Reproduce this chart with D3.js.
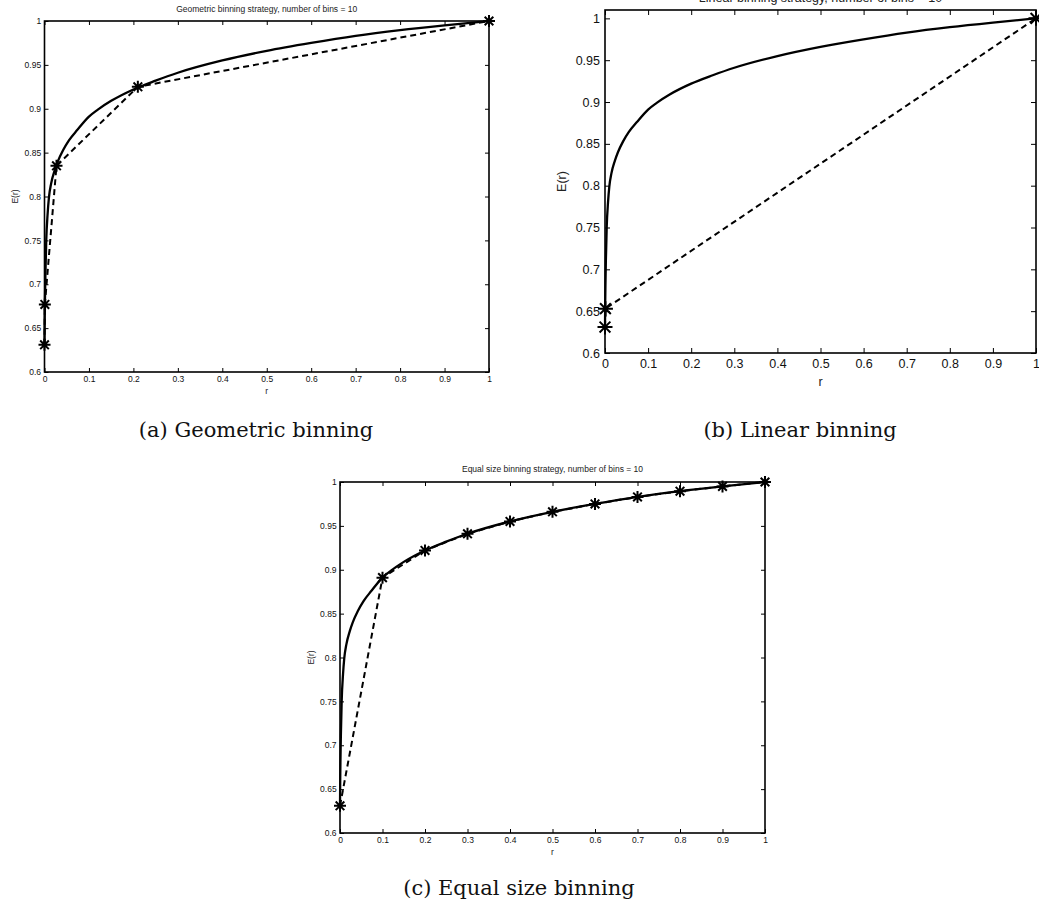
<!DOCTYPE html>
<html>
<head>
<meta charset="utf-8">
<script src="https://cdn.jsdelivr.net/npm/d3@7"></script>
<style>
  body { margin: 0; background: #fff; }
  svg { display: block; }
</style>
</head>
<body>
<div id="chart"></div>
<script>
// Set dimensions
const width = 1039,
    height = 909;

// Tick values
const xTicks = [0, 0.1, 0.2, 0.3, 0.4, 0.5, 0.6, 0.7, 0.8, 0.9, 1];
const yTicks = [0.6, 0.65, 0.7, 0.75, 0.8, 0.85, 0.9, 0.95, 1];

// Exact E(r) curve
const curveR = [0, 0.0005, 0.001, 0.002, 0.004, 0.007, 0.01, 0.015, 0.023, 0.03, 0.042, 0.055, 0.074, 0.1, 0.12, 0.15, 0.2, 0.25, 0.3, 0.4, 0.5, 0.6, 0.7, 0.8, 0.9, 1];
const curveE = [0.631, 0.66, 0.68, 0.71, 0.751, 0.78, 0.799, 0.815, 0.83, 0.84, 0.853, 0.864, 0.876, 0.891, 0.899, 0.909, 0.922, 0.932, 0.941, 0.955, 0.966, 0.975, 0.983, 0.9895, 0.995, 1];

// Binned approximations
const geoR = [0, 0.0008, 0.027, 0.21, 1];
const geoE = [0.631, 0.677, 0.835, 0.925, 1];
const linR = [0, 0.001, 1];
const linE = [0.631, 0.653, 1];
const eqR = [0, 0.1, 0.2, 0.3, 0.4, 0.5, 0.6, 0.7, 0.8, 0.9, 1];
const eqE = [0.631, 0.891, 0.922, 0.941, 0.955, 0.966, 0.975, 0.983, 0.9895, 0.995, 1];

const curve = curveR.map((r, i) => ({ r, e: curveE[i] }));

const panels = [
    {
        title: "Geometric binning strategy, number of bins = 10",
        caption: "(a) Geometric binning",
        x0: 44.5, x1: 489, y0: 372, y1: 21, yMax: 1,
        font: 8.5, tick: 4, star: 6,
        titleY: 12, capX: 256, capY: 437,
        binR: geoR, binE: geoE,
    },
    {
        title: "Linear binning strategy, number of bins = 10",
        caption: "(b) Linear binning",
        x0: 605, x1: 1036, y0: 353, y1: 10, yMax: 1.01,
        font: 12.5, tick: 5, star: 7.5,
        titleY: 2, capX: 800, capY: 437,
        binR: linR, binE: linE,
    },
    {
        title: "Equal size binning strategy, number of bins = 10",
        caption: "(c) Equal size binning",
        x0: 340, x1: 765, y0: 833, y1: 482, yMax: 1,
        font: 8.5, tick: 4, star: 6,
        titleY: 472, capX: 519, capY: 895,
        binR: eqR, binE: eqE,
    },
];

// Append SVG
const svg = d3
    .select("#chart")
    .append("svg")
    .attr("width", width)
    .attr("height", height)
    .style("font-family", "'Liberation Sans', Arial, sans-serif");

const fmt = d3.format("~g");

panels.forEach((p) => {
    const x = d3.scaleLinear().domain([0, 1]).range([p.x0, p.x1]);
    const y = d3.scaleLinear().domain([0.6, p.yMax]).range([p.y0, p.y1]);
    const g = svg.append("g");

    // Axes with inward ticks (Matlab style)
    g.append("g")
        .attr("transform", `translate(0,${p.y0})`)
        .call(
            d3.axisBottom(x).tickValues(xTicks).tickFormat(fmt)
                .tickSizeInner(-p.tick).tickSizeOuter(0).tickPadding(p.font * 0.45),
        );
    g.append("g")
        .attr("transform", `translate(${p.x0},0)`)
        .call(
            d3.axisLeft(y).tickValues(yTicks).tickFormat(fmt)
                .tickSizeInner(-p.tick).tickSizeOuter(0).tickPadding(p.font * 0.4),
        );
    g.append("g")
        .attr("transform", `translate(0,${p.y1})`)
        .call(d3.axisTop(x).tickValues(xTicks).tickFormat("").tickSizeInner(-p.tick).tickSizeOuter(0));
    g.append("g")
        .attr("transform", `translate(${p.x1},0)`)
        .call(d3.axisRight(y).tickValues(yTicks).tickFormat("").tickSizeInner(-p.tick).tickSizeOuter(0));

    g.selectAll(".domain").remove();
    g.selectAll(".tick line").attr("stroke", "#000").attr("stroke-width", 1);
    g.selectAll(".tick text")
        .attr("fill", "#111")
        .style("font-size", `${p.font}px`)
        .style("font-family", "'Liberation Sans', Arial, sans-serif");

    // Box
    g.append("rect")
        .attr("x", p.x0)
        .attr("y", p.y1)
        .attr("width", p.x1 - p.x0)
        .attr("height", p.y0 - p.y1)
        .attr("fill", "none")
        .attr("stroke", "#000")
        .attr("stroke-width", 1.6);

    // Exact curve
    g.append("path")
        .datum(curve)
        .attr("fill", "none")
        .attr("stroke", "#000")
        .attr("stroke-width", 2.3)
        .attr(
            "d",
            d3.line().x((d) => x(d.r)).y((d) => y(d.e)).curve(d3.curveMonotoneX),
        );

    // Binned approximation
    const bins = p.binR.map((r, i) => ({ r, e: p.binE[i] }));
    g.append("path")
        .datum(bins)
        .attr("fill", "none")
        .attr("stroke", "#000")
        .attr("stroke-width", 2)
        .attr("stroke-dasharray", "6,4")
        .attr("d", d3.line().x((d) => x(d.r)).y((d) => y(d.e)));

    // Asterisk markers
    const s = p.star,
        a = s * 0.72;
    g.selectAll(".star")
        .data(bins)
        .enter()
        .append("path")
        .attr("transform", (d) => `translate(${x(d.r)},${y(d.e)})`)
        .attr("fill", "none")
        .attr("stroke", "#000")
        .attr("stroke-width", 2)
        .attr("d", `M${-s},0L${s},0M0,${-s}L0,${s}M${-a},${-a}L${a},${a}M${-a},${a}L${a},${-a}`);

    // Labels
    g.append("text")
        .attr("x", (p.x0 + p.x1) / 2)
        .attr("y", p.titleY)
        .attr("text-anchor", "middle")
        .style("font-size", `${p.font}px`)
        .attr("fill", "#222")
        .text(p.title);
    g.append("text")
        .attr("x", (p.x0 + p.x1) / 2)
        .attr("y", p.y0 + p.font * 2.6)
        .attr("text-anchor", "middle")
        .style("font-size", `${p.font}px`)
        .attr("fill", "#222")
        .text("r");
    g.append("text")
        .attr("transform", `translate(${p.x0 - p.font * 3.1},${(p.y0 + p.y1) / 2}) rotate(-90)`)
        .attr("text-anchor", "middle")
        .style("font-size", `${p.font}px`)
        .attr("fill", "#222")
        .text("E(r)");

    // Caption
    svg.append("text")
        .attr("x", p.capX)
        .attr("y", p.capY)
        .attr("text-anchor", "middle")
        .style("font-family", "'DejaVu Serif', serif")
        .style("font-size", "21px")
        .attr("fill", "#111")
        .text(p.caption);
});
</script>
</body>
</html>
